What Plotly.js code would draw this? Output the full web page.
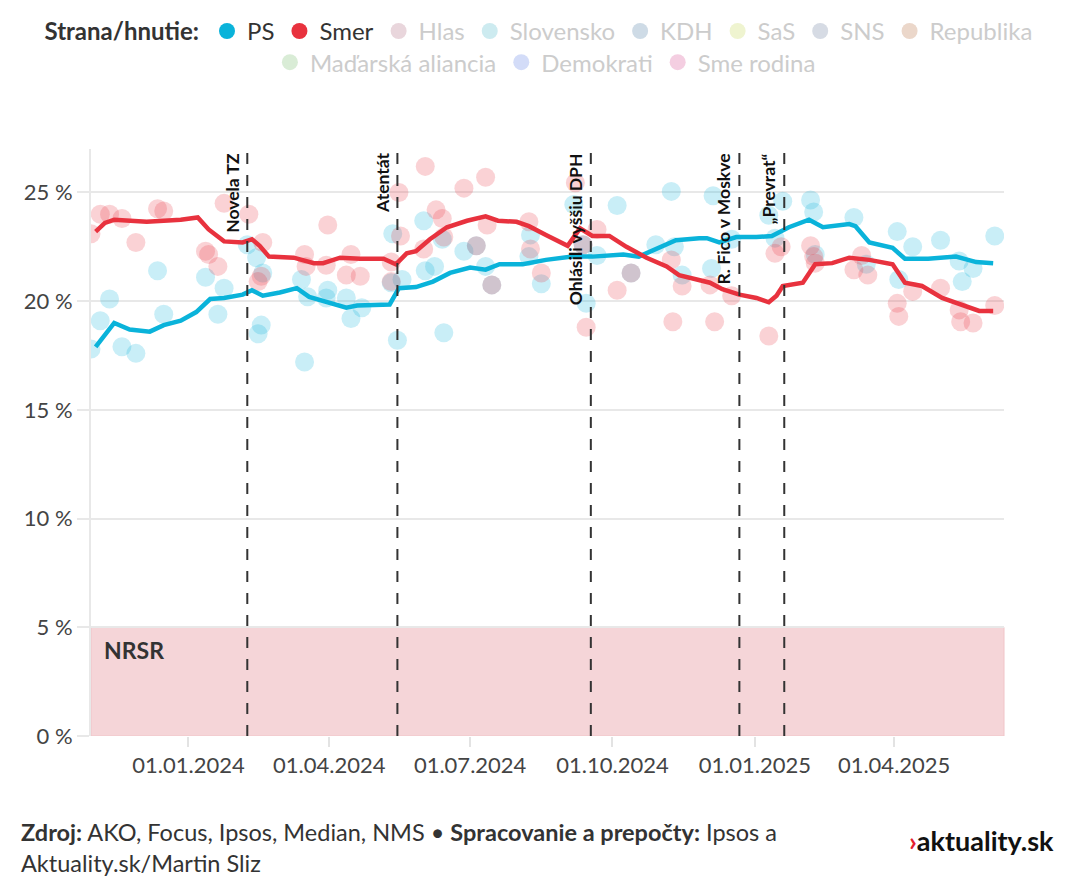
<!DOCTYPE html>
<html>
<head>
<meta charset="utf-8">
<script src="https://cdn.plot.ly/plotly-3.0.1.min.js"></script>
<style>
html, body { margin:0; padding:0; background:#fff; }
#graf { width:1080px; height:890px; }
</style>
</head>
<body>
<div id="graf"></div>
<script>
// kĺzavý priemer PS
var psLineDates = ['2023-11-02','2023-11-14','2023-11-24','2023-12-07','2023-12-16','2023-12-27','2024-01-06','2024-01-15','2024-01-24','2024-02-05','2024-02-11','2024-02-18','2024-02-29','2024-03-11','2024-03-19','2024-04-01','2024-04-12','2024-04-19','2024-05-10','2024-05-16','2024-05-27','2024-06-07','2024-06-18','2024-07-01','2024-07-11','2024-07-20','2024-08-04','2024-08-19','2024-09-05','2024-09-18','2024-10-08','2024-10-18','2024-10-29','2024-11-11','2024-11-26','2024-12-01','2024-12-09','2024-12-20','2025-01-02','2025-01-12','2025-01-23','2025-02-05','2025-02-14','2025-03-03','2025-03-07','2025-03-16','2025-03-31','2025-04-08','2025-04-23','2025-05-11','2025-05-24','2025-06-04'];
var psLineVals = [17.9,19.0,18.7,18.6,18.9,19.1,19.5,20.1,20.15,20.3,20.5,20.25,20.4,20.6,20.2,19.9,19.7,19.8,19.85,20.6,20.65,20.9,21.3,21.55,21.45,21.7,21.7,21.9,22.05,22.05,22.15,22.05,22.4,22.8,22.9,22.9,22.7,22.95,22.95,23.0,23.4,23.75,23.4,23.55,23.45,22.7,22.45,21.95,21.95,22.05,21.8,21.75];

// kĺzavý priemer Smer
var smerLineDates = ['2023-11-02','2023-11-08','2023-11-14','2023-12-05','2023-12-27','2024-01-07','2024-01-14','2024-01-24','2024-02-05','2024-02-11','2024-02-16','2024-02-22','2024-03-09','2024-03-22','2024-03-28','2024-04-08','2024-04-21','2024-05-06','2024-05-14','2024-05-21','2024-05-27','2024-06-05','2024-06-16','2024-06-29','2024-07-11','2024-07-19','2024-07-31','2024-08-08','2024-08-19','2024-09-02','2024-09-10','2024-09-18','2024-09-29','2024-10-10','2024-10-23','2024-11-05','2024-11-13','2024-11-26','2024-12-03','2024-12-11','2024-12-22','2025-01-02','2025-01-10','2025-01-15','2025-01-19','2025-02-01','2025-02-09','2025-02-20','2025-03-03','2025-03-16','2025-03-31','2025-04-08','2025-04-19','2025-05-02','2025-05-15','2025-05-26','2025-06-04'];
var smerLineVals = [23.2,23.6,23.75,23.65,23.75,23.85,23.3,22.75,22.7,22.85,22.55,22.05,22.0,21.75,21.75,22.0,21.95,21.95,21.7,22.2,22.3,22.85,23.4,23.7,23.9,23.7,23.65,23.45,23.05,22.55,23.35,23.0,23.0,22.5,22.0,21.6,21.2,20.95,20.85,20.55,20.3,20.15,19.95,20.25,20.7,20.85,21.7,21.75,22.0,21.9,21.7,20.85,20.7,20.15,19.8,19.55,19.55];

// jednotlivé prieskumy PS
var psPollDates = ['2023-10-30','2023-11-05','2023-11-11','2023-11-19','2023-11-28','2023-12-12','2023-12-16','2024-01-12','2024-01-20','2024-01-24','2024-02-08','2024-02-14','2024-02-15','2024-02-17','2024-02-18','2024-03-14','2024-03-16','2024-03-18','2024-03-30','2024-03-31','2024-04-12','2024-04-15','2024-04-22','2024-05-11','2024-05-12','2024-05-15','2024-05-18','2024-06-01','2024-06-02','2024-06-08','2024-06-13','2024-06-14','2024-06-27','2024-07-05','2024-07-11','2024-07-15','2024-08-08','2024-08-09','2024-08-16','2024-09-06','2024-09-12','2024-09-14','2024-09-21','2024-10-04','2024-10-13','2024-10-29','2024-11-08','2024-11-10','2024-11-15','2024-12-04','2024-12-05','2024-12-17','2025-01-10','2025-01-14','2025-01-19','2025-02-06','2025-02-08','2025-02-09','2025-03-06','2025-03-14','2025-04-03','2025-04-04','2025-04-13','2025-05-01','2025-05-13','2025-05-15','2025-05-22','2025-06-05'];
var psPollVals = [17.8,19.1,20.1,17.9,17.6,21.4,19.4,21.1,19.4,20.6,22.6,22.0,18.5,18.9,21.3,21.0,17.2,20.2,20.15,20.5,20.15,19.2,19.7,20.85,23.1,18.2,21.0,23.7,21.4,21.6,22.85,18.55,22.3,22.55,21.6,20.75,22.05,23.05,20.8,24.45,22.6,19.9,22.1,24.4,21.3,22.6,25.05,22.5,21.2,21.5,24.85,22.85,23.95,22.9,24.6,24.65,24.1,22.15,23.85,21.7,23.2,21.0,22.5,22.8,21.85,20.9,21.5,23.0];

// jednotlivé prieskumy Smer
var smerPollDates = ['2023-10-30','2023-11-05','2023-11-11','2023-11-19','2023-11-28','2023-12-12','2023-12-16','2024-01-12','2024-01-14','2024-01-20','2024-01-24','2024-02-09','2024-02-15','2024-02-17','2024-02-18','2024-03-16','2024-03-17','2024-03-30','2024-03-31','2024-04-12','2024-04-15','2024-04-21','2024-05-11','2024-05-11','2024-05-16','2024-05-17','2024-06-01','2024-06-02','2024-06-09','2024-06-13','2024-06-14','2024-06-27','2024-07-05','2024-07-11','2024-07-12','2024-07-15','2024-08-08','2024-08-09','2024-08-16','2024-09-07','2024-09-12','2024-09-14','2024-09-21','2024-10-04','2024-10-13','2024-11-08','2024-11-09','2024-11-15','2024-12-03','2024-12-06','2024-12-17','2025-01-10','2025-01-14','2025-01-18','2025-02-06','2025-02-08','2025-02-09','2025-03-06','2025-03-11','2025-03-15','2025-04-03','2025-04-04','2025-04-13','2025-05-01','2025-05-13','2025-05-14','2025-05-22','2025-06-05'];
var smerPollVals = [23.1,24.0,24.0,23.8,22.7,24.25,24.15,22.3,22.15,21.6,24.5,24.0,20.9,21.15,22.7,22.15,21.6,21.65,23.5,21.2,22.15,21.15,21.8,20.9,25.0,23.0,22.4,26.2,24.2,23.8,22.95,25.2,22.55,25.7,23.5,20.75,23.65,22.4,21.3,25.45,22.6,18.8,23.3,20.5,21.3,21.9,19.05,20.7,20.75,19.05,20.25,18.4,22.2,22.5,22.55,22.05,21.75,21.45,22.1,21.2,19.9,19.3,20.45,20.6,19.6,19.05,19.0,19.8];

// udalosti
var eventDates = ['2024-02-08','2024-05-15','2024-09-17','2024-12-22','2025-01-20'];
var eventLabels = ['Novela TZ','Atentát','Ohlásili vyššiu DPH','R. Fico v Moskve','„Prevrat“'];

// strany v legende
var partyNames = ['PS','Smer','Hlas','Slovensko','KDH','SaS','SNS','Republika','Maďarská aliancia','Demokrati','Sme rodina'];
var partyColors = ['#0ab3da','#e8323e','#e9d6dc','#cdebf0','#cedbe6','#eff4d0','#d6dbe4','#ebd7ca','#d9ecd6','#d3dcf8','#f4cee1'];
var partyActive = [true,true,false,false,false,false,false,false,false,false,false];

var xRange = ['2023-10-30','2025-06-11'];
var xTicks = ['2024-01-01','2024-04-01','2024-07-01','2024-10-01','2025-01-01','2025-04-01'];
var yTicks = [0,5,10,15,20,25];

var fontFam = 'Lato, "Source Sans Pro", "Noto Sans", sans-serif';

function graf_prieskumy(){
    var data = [
        {
            x: psPollDates, y: psPollVals, type:'scatter', mode:'markers',
            marker:{size:19, color:partyColors[0], opacity:0.22, line:{width:0}},
            showlegend:false, hoverinfo:'x+y'
        },
        {
            x: smerPollDates, y: smerPollVals, type:'scatter', mode:'markers',
            marker:{size:19, color:partyColors[1], opacity:0.22, line:{width:0}},
            showlegend:false, hoverinfo:'x+y'
        },
        {
            x: psLineDates, y: psLineVals, type:'scatter', mode:'lines',
            line:{color:partyColors[0], width:4.5},
            showlegend:false
        },
        {
            x: smerLineDates, y: smerLineVals, type:'scatter', mode:'lines',
            line:{color:partyColors[1], width:4.5},
            showlegend:false
        }
    ];

    // položky legendy
    for (var i = 0; i < partyNames.length; i++) {
        var label = partyActive[i] ? partyNames[i] : '<span style="color:#cccccc">' + partyNames[i] + '</span>';
        data.push({
            x:[null], y:[null], type:'scatter', mode:'markers',
            name: label,
            marker:{size:16, color:partyColors[i]},
            legend: i < 8 ? 'legend' : 'legend2',
            hoverinfo:'skip'
        });
    }

    var shapes = [
        {
            type:'rect', xref:'paper', x0:0, x1:1, yref:'y', y0:0, y1:5,
            fillcolor:'#f5d5d8', line:{color:'#f0c4c8', width:1}, layer:'below'
        }
    ];
    var annotations = [
        {
            text:'<b>NRSR</b>', xref:'paper', x:0, xanchor:'left', xshift:11,
            yref:'y', y:5, yanchor:'top', yshift:-7, showarrow:false,
            font:{size:23, color:'#333'}
        },
        {
            text:'<b>Zdroj:</b> AKO, Focus, Ipsos, Median, NMS • <b>Spracovanie a prepočty:</b> Ipsos a<br>Aktuality.sk/Martin Sliz',
            xref:'paper', x:-0.079, xanchor:'left', yref:'paper', y:-0.137, yanchor:'top',
            align:'left', showarrow:false, font:{size:23.5, color:'#333'}
        },
        {
            text:'<b><span style="color:#e4202e">›</span>aktuality.sk</b>',
            xref:'paper', x:1.057, xanchor:'right', yref:'paper', y:-0.147, yanchor:'top',
            showarrow:false, font:{size:27, color:'#111'}
        }
    ];

    for (var j = 0; j < eventDates.length; j++) {
        shapes.push({
            type:'line', xref:'x', x0:eventDates[j], x1:eventDates[j], yref:'paper', y0:0, y1:1,
            line:{color:'#333', width:2, dash:'11px,11px'}
        });
        annotations.push({
            text:'<b>' + eventLabels[j] + '</b>', textangle:-90,
            xref:'x', x:eventDates[j], xanchor:'right', xshift:-3,
            yref:'paper', y:1, yanchor:'top', yshift:-2,
            showarrow:false, font:{size:17.5, color:'#111'}
        });
    }

    var layout = {
        width:1080, height:890,
        margin:{t:149, b:154, l:91, r:76},
        paper_bgcolor:'#fff', plot_bgcolor:'#fff',
        font:{family:fontFam, size:22, color:'#444'},
        showlegend:true,
        legend:{
            orientation:'h', xref:'container', x:0.5, xanchor:'center',
            yref:'container', y:0.99, yanchor:'top',
            title:{text:'<b>Strana/hnutie:</b>', side:'left', font:{size:24, color:'#333'}},
            font:{size:24, color:'#333'}, itemclick:false, itemdoubleclick:false
        },
        legend2:{
            orientation:'h', xref:'container', x:0.505, xanchor:'center',
            yref:'container', y:0.955, yanchor:'top',
            font:{size:24, color:'#333'}, itemclick:false, itemdoubleclick:false
        },
        xaxis:{
            type:'date', range:xRange, tickvals:xTicks, tickformat:'%d.%m.%Y',
            showgrid:false, zeroline:false, showline:false,
            ticks:'outside', ticklen:10, tickwidth:2, tickcolor:'#e3e3e3',
            tickfont:{size:22, color:'#444'}
        },
        yaxis:{
            range:[0,27], tickmode:'array', tickvals:yTicks,
            ticktext: yTicks.map(function(v){ return v + ' %'; }),
            showgrid:true, gridcolor:'#e8e8e8', gridwidth:2, zeroline:false,
            showline:true, linecolor:'#e8e8e8', linewidth:2,
            ticks:'outside', ticklen:12, tickwidth:2, tickcolor:'#e8e8e8',
            tickfont:{size:22, color:'#444'}
        },
        shapes:shapes,
        annotations:annotations
    };

    Plotly.newPlot('graf', data, layout, {displayModeBar:false});
}

graf_prieskumy();
</script>
</body>
</html>
